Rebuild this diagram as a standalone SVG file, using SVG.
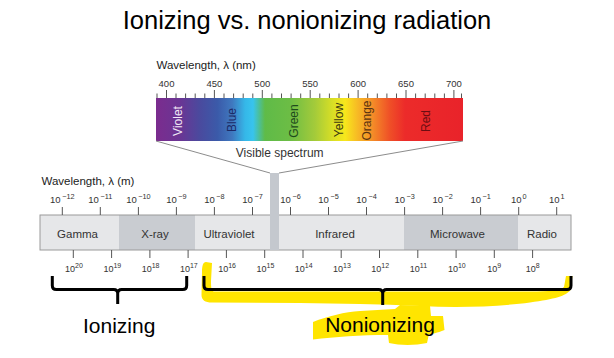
<svg xmlns="http://www.w3.org/2000/svg" width="614" height="358" viewBox="0 0 614 358">
<defs>
<linearGradient id="spec" gradientUnits="userSpaceOnUse" x1="156" y1="0" x2="463" y2="0">
<stop offset="0" stop-color="#7b2c8e"/>
<stop offset="0.078" stop-color="#6a3594"/>
<stop offset="0.143" stop-color="#4a4a9e"/>
<stop offset="0.2" stop-color="#3b5aa9"/>
<stop offset="0.248" stop-color="#3f78bf"/>
<stop offset="0.29" stop-color="#35b7e8"/>
<stop offset="0.316" stop-color="#38c4ee"/>
<stop offset="0.355" stop-color="#5fbb48"/>
<stop offset="0.436" stop-color="#6cbd45"/>
<stop offset="0.518" stop-color="#a4cb3a"/>
<stop offset="0.573" stop-color="#d6de26"/>
<stop offset="0.616" stop-color="#f8e71c"/>
<stop offset="0.658" stop-color="#f7b825"/>
<stop offset="0.704" stop-color="#f48e28"/>
<stop offset="0.762" stop-color="#ef4f27"/>
<stop offset="0.811" stop-color="#ec2b2a"/>
<stop offset="1" stop-color="#e9232a"/>
</linearGradient>
</defs>
<style>
text{font-family:"Liberation Sans",Arial,sans-serif;}
.title{font-size:25.5px;fill:#000;}
.axis{font-size:11.5px;fill:#222;}
.num{font-size:9.5px;fill:#333;}
.sup{font-size:7.3px;}
.band{font-size:12px;}
.sec{font-size:11.5px;fill:#333;}
.tick{stroke:#555;stroke-width:1;}
.light{fill:#e6e7e9;}
.dark{fill:#c9ccd1;}
.brace{fill:none;stroke:#000;stroke-width:3;stroke-linejoin:round;stroke-linecap:butt;}
.hl{fill:#ffe500;}
.big{font-size:21px;fill:#000;}
.guide{stroke:#8c8c8c;stroke-width:1;fill:none;}
</style>

<text class="title" x="307" y="29" text-anchor="middle">Ionizing vs. nonionizing radiation</text>

<!-- highlight strokes -->
<g id="highlight">
<path class="hl" d="M206,262 C203,262 202,266 202,272 L201.5,295 C201.5,300 205,302.5 212,302.5 L300,303 C340,303.5 380,304 420,306 C460,308 500,306.5 530,302.5 C555,299 566,296 570.5,290 L572.5,276 L566,276 L564,287 C560,290.5 550,291.5 530,291.5 L214,291.5 C211.5,291.5 211,288 211,281 L212,263 Z"/>
<path class="hl" d="M313,322 C328,316 345,312 360,311 L395,309 L400,305 L430,306 L431,316 L443,316 L444.5,330 C437,333 432,334 429,334 L427,343 C415,345.5 400,345.5 389,343 L388,335 C360,335 335,337 313,339.5 Z"/>
</g>

<!-- visible spectrum -->
<g id="visible-spectrum">
<text class="axis" x="156.5" y="68.5">Wavelength, λ (nm)</text>
<rect x="156" y="98" width="307" height="43" fill="url(#spec)"/>
<g class="tick">
<path d="M157,93.5V98M166.5,90V98M176,93.5V98M185.6,93.5V98M195.2,93.5V98M204.8,93.5V98M214.4,90V98M224,93.5V98M233.6,93.5V98M243.2,93.5V98M252.8,93.5V98M262.3,90V98M271.9,93.5V98M281.5,93.5V98M291.1,93.5V98M300.7,93.5V98M310.2,90V98M319.8,93.5V98M329.4,93.5V98M339,93.5V98M348.6,93.5V98M358.1,90V98M367.7,93.5V98M377.3,93.5V98M386.9,93.5V98M396.5,93.5V98M406,90V98M415.6,93.5V98M425.2,93.5V98M434.8,93.5V98M444.4,93.5V98M453.9,90V98M461.5,93.5V98"/>
</g>
<g class="num" text-anchor="middle">
<text x="166.5" y="86.5">400</text>
<text x="214.4" y="86.5">450</text>
<text x="262.3" y="86.5">500</text>
<text x="310.2" y="86.5">550</text>
<text x="358.1" y="86.5">600</text>
<text x="406" y="86.5">650</text>
<text x="453.9" y="86.5">700</text>
</g>
<g class="band" text-anchor="middle">
<text transform="translate(182,121) rotate(-90)" fill="#f3e9f6">Violet</text>
<text transform="translate(235.6,120) rotate(-90)" fill="#1c2a66">Blue</text>
<text transform="translate(298.3,121) rotate(-90)" fill="#1e4a1c">Green</text>
<text transform="translate(342.6,120) rotate(-90)" fill="#3a3a12">Yellow</text>
<text transform="translate(371,120.5) rotate(-90)" fill="#5a3410">Orange</text>
<text transform="translate(430,121) rotate(-90)" fill="#6b0d12">Red</text>
</g>
<text class="sec" x="279.7" y="156.5" text-anchor="middle" fill="#222" style="font-size:12px">Visible spectrum</text>
</g>

<!-- connectors -->
<g id="connectors">
<path class="guide" d="M156,141 L270,173"/>
<path class="guide" d="M463,141 L279,173"/>
</g>

<!-- EM spectrum bar -->
<g id="em-spectrum">
<text class="axis" x="41.5" y="185">Wavelength, λ (m)</text>
<rect class="light" x="40" y="215" width="79" height="35"/>
<rect class="dark" x="119" y="215" width="76" height="35"/>
<rect class="light" x="195" y="215" width="209" height="35"/>
<rect class="dark" x="404" y="215" width="114" height="35"/>
<rect class="light" x="518" y="215" width="53" height="35"/>
<rect x="40" y="215" width="531" height="35" fill="none" stroke="#9a9a9a" stroke-width="1"/>
<rect x="270" y="173" width="9" height="77" fill="#c4c8ce"/>
<g class="sec" text-anchor="middle">
<text x="77.5" y="237.5">Gamma</text>
<text x="155" y="237.5">X-ray</text>
<text x="229" y="237.5">Ultraviolet</text>
<text x="335" y="237.5">Infrared</text>
<text x="457.5" y="237.5">Microwave</text>
<text x="542" y="237.5">Radio</text>
</g>
<g class="tick">
<path d="M62.3,207V215M100.3,207V215M138.4,207V215M176.4,207V215M214.4,207V215M252.5,207V215M290.5,207V215M328.5,207V215M366.5,207V215M404.6,207V215M442.6,207V215M480.6,207V215M518.7,207V215M556.7,207V215"/>
<path d="M73.3,250V258M111.6,250V258M149.9,250V258M188.1,250V258M226.4,250V258M264.7,250V258M303,250V258M341.2,250V258M379.5,250V258M417.8,250V258M456.1,250V258M494.3,250V258M532.6,250V258"/>
</g>
<g class="num" text-anchor="middle">
<text x="62.3" y="203">10<tspan class="sup" dx="1.5" dy="-4">−12</tspan></text>
<text x="100.3" y="203">10<tspan class="sup" dx="1.5" dy="-4">−11</tspan></text>
<text x="138.4" y="203">10<tspan class="sup" dx="1.5" dy="-4">−10</tspan></text>
<text x="176.4" y="203">10<tspan class="sup" dx="1.5" dy="-4">−9</tspan></text>
<text x="214.4" y="203">10<tspan class="sup" dx="1.5" dy="-4">−8</tspan></text>
<text x="252.5" y="203">10<tspan class="sup" dx="1.5" dy="-4">−7</tspan></text>
<text x="290.5" y="203">10<tspan class="sup" dx="1.5" dy="-4">−6</tspan></text>
<text x="328.5" y="203">10<tspan class="sup" dx="1.5" dy="-4">−5</tspan></text>
<text x="366.5" y="203">10<tspan class="sup" dx="1.5" dy="-4">−4</tspan></text>
<text x="404.6" y="203">10<tspan class="sup" dx="1.5" dy="-4">−3</tspan></text>
<text x="442.6" y="203">10<tspan class="sup" dx="1.5" dy="-4">−2</tspan></text>
<text x="480.6" y="203">10<tspan class="sup" dx="1.5" dy="-4">−1</tspan></text>
<text x="518.7" y="203">10<tspan class="sup" dx="1" dy="-4">0</tspan></text>
<text x="556.7" y="203">10<tspan class="sup" dx="1" dy="-4">1</tspan></text>
</g>
<g class="num" text-anchor="middle" style="font-size:9px">
<text x="74" y="271.5">10<tspan class="sup" dy="-4" style="font-size:7px">20</tspan></text>
<text x="112.3" y="271.5">10<tspan class="sup" dy="-4" style="font-size:7px">19</tspan></text>
<text x="150.6" y="271.5">10<tspan class="sup" dy="-4" style="font-size:7px">18</tspan></text>
<text x="188.8" y="271.5">10<tspan class="sup" dy="-4" style="font-size:7px">17</tspan></text>
<text x="227.1" y="271.5">10<tspan class="sup" dy="-4" style="font-size:7px">16</tspan></text>
<text x="265.4" y="271.5">10<tspan class="sup" dy="-4" style="font-size:7px">15</tspan></text>
<text x="303.7" y="271.5">10<tspan class="sup" dy="-4" style="font-size:7px">14</tspan></text>
<text x="341.9" y="271.5">10<tspan class="sup" dy="-4" style="font-size:7px">13</tspan></text>
<text x="380.2" y="271.5">10<tspan class="sup" dy="-4" style="font-size:7px">12</tspan></text>
<text x="418.5" y="271.5">10<tspan class="sup" dy="-4" style="font-size:7px">11</tspan></text>
<text x="456.8" y="271.5">10<tspan class="sup" dy="-4" style="font-size:7px">10</tspan></text>
<text x="494.3" y="271.5">10<tspan class="sup" dy="-4" style="font-size:7px">9</tspan></text>
<text x="532.6" y="271.5">10<tspan class="sup" dy="-4" style="font-size:7px">8</tspan></text>
</g>
</g>

<!-- braces -->
<g id="ionizing">
<path class="brace" d="M52.3,276V285.5Q52.3,289.5 56.3,289.5H113.7Q117.7,289.5 117.7,293.5V304M117.7,293.5Q117.7,289.5 121.7,289.5H182.7Q186.7,289.5 186.7,285.5V276"/>
<text class="big" x="119.2" y="332.7" text-anchor="middle">Ionizing</text>
</g>
<g id="nonionizing">
<path class="brace" d="M204,276V285.5Q204,289.5 208,289.5H378.7Q382.7,289.5 382.7,293.5V305M382.7,293.5Q382.7,289.5 386.7,289.5H567Q571,289.5 571,285.5V276"/>
<text class="big" x="380" y="332" text-anchor="middle">Nonionizing</text>
</g>
</svg>
